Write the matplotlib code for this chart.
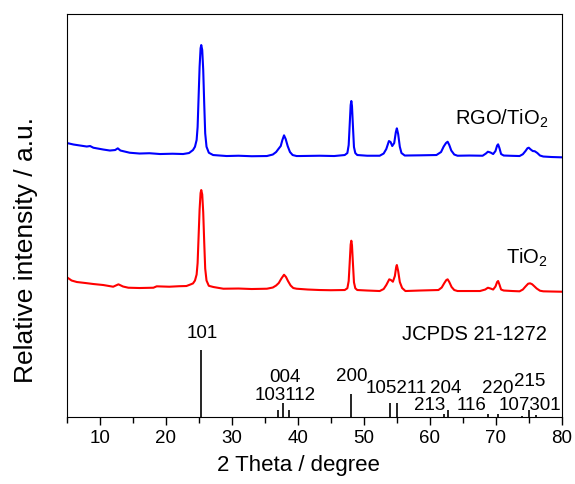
import numpy as np
import matplotlib as mpl
mpl.use('agg')
from matplotlib import pyplot as plt

plt.rcParams['font.family'] = ['Liberation Sans', 'DejaVu Sans']
plt.rcParams['mathtext.fontset'] = 'custom'
plt.rcParams['mathtext.rm'] = 'Liberation Sans'

# RGO/TiO2 pattern (2theta, intensity a.u.)
rgo_2theta = [5.0, 6.0, 7.0, 8.0, 8.5, 9.0, 10.5, 11.5, 12.3, 12.7, 13.1, 14.5, 16.0,
              17.5, 19.1, 21.0, 22.6, 23.5, 24.1, 24.4, 24.65, 24.8, 24.95, 25.1,
              25.25, 25.35, 25.5, 25.65, 25.8, 25.95, 26.15, 26.5, 27.15, 29.2, 31.0,
              33.0, 35.3, 36.2, 36.7, 37.1, 37.4, 37.65, 37.9, 38.15, 38.45, 38.8,
              39.2, 39.8, 40.3, 43.3, 45.5, 47.1, 47.5, 47.7, 47.85, 48.0, 48.1,
              48.2, 48.35, 48.5, 48.7, 49.0, 50.5, 52.4, 53.0, 53.4, 53.8, 54.05,
              54.3, 54.6, 54.85, 55.0, 55.2, 55.45, 55.7, 56.2, 58.5, 61.0, 61.7,
              62.1, 62.45, 62.7, 62.95, 63.25, 63.7, 64.2, 66.0, 68.0, 68.5, 68.8,
              69.2, 69.6, 69.95, 70.2, 70.35, 70.55, 70.8, 71.2, 72.5, 73.6, 74.1,
              74.5, 74.8, 75.0, 75.3, 75.6, 75.9, 76.3, 76.7, 77.2, 78.5, 80.0]
rgo_int = [274, 272.5, 271.5, 270.5, 271, 269.3, 267.5, 266.5, 267, 268.7, 266.5, 264.3, 263.5,
           263.8, 263, 263.3, 263, 264, 267, 270.3, 277, 290, 320, 350,
           368.7, 372, 367, 347, 313.7, 283.7, 270.3, 264.3, 262, 261, 261.3,
           260.8, 261, 262.5, 265, 268.5, 271, 277, 281.7, 278, 271, 265,
           262, 261, 261, 261.3, 261, 262, 264, 272, 292, 312, 316,
           311, 290, 270, 264, 262, 261.3, 261.3, 263.5, 268, 276, 275,
           271, 274, 285, 288.7, 283, 270.3, 264, 261.5, 261.7, 262, 265,
           270.5, 274, 275.3, 272, 266.5, 262.5, 261.3, 261.5, 261.3, 263.5, 265.3,
           264.5, 263, 266, 271.5, 272.7, 269, 263, 261.5, 261.2, 261, 262.8,
           266, 268.8, 269.3, 267.5, 266, 265.8, 264, 261.5, 260.5, 260, 259.7]

# bare TiO2 pattern
tio2_2theta = [5.0, 5.7, 6.5, 7.8, 9.0, 10.5, 12.0, 12.8, 13.5, 14.3, 16.0, 18.1, 18.6,
               20.5, 22.0, 23.1, 23.7, 24.1, 24.4, 24.65, 24.8, 24.95, 25.1, 25.25,
               25.35, 25.5, 25.65, 25.8, 25.95, 26.15, 26.5, 27.2, 28.7, 31.0, 33.0,
               35.3, 36.2, 36.7, 37.1, 37.5, 37.9, 38.2, 38.5, 38.9, 39.3, 39.8,
               41.5, 43.3, 45.0, 47.1, 47.5, 47.7, 47.85, 48.0, 48.1, 48.2, 48.35,
               48.5, 48.7, 49.0, 50.5, 52.4, 53.0, 53.4, 53.85, 54.1, 54.4, 54.7,
               54.9, 55.0, 55.2, 55.45, 55.8, 56.3, 58.5, 61.3, 61.8, 62.2, 62.5,
               62.7, 62.95, 63.3, 63.7, 64.2, 66.0, 67.6, 68.4, 68.8, 69.2, 69.6,
               69.95, 70.2, 70.35, 70.55, 70.8, 71.2, 72.5, 73.6, 74.1, 74.5, 74.9,
               75.2, 75.5, 75.8, 76.2, 76.7, 77.2, 78.5, 80.0]
tio2_int = [139.7, 136.5, 135, 134, 133, 132, 130.3, 132.7, 130.5, 129.3, 129, 129.3, 130.7,
            130.3, 130.8, 131, 132.5, 133.6, 136.5, 142.5, 154, 180.7, 207.4, 224,
            227, 222.6, 204.8, 175, 148.4, 136.5, 131.2, 130, 128.3, 128.5, 128,
            128.3, 129.5, 131.5, 134, 138.5, 142.3, 140, 136, 131.5, 129, 128.3,
            127.5, 127, 126.8, 127, 128.8, 136, 154, 172.5, 176.3, 171.8, 152.8,
            134.7, 128.8, 127, 126.5, 126, 128, 132, 137.7, 137, 135.3, 141,
            150, 152, 146, 135, 129, 126, 126.5, 127, 129.5, 134, 137,
            137.7, 135, 130, 127, 126, 126, 126, 127.5, 129.3, 128.5, 127.5,
            130.5, 135, 136, 132.5, 127.5, 126.5, 126, 125.7, 127.5, 130.5, 133.3,
            133.7, 132.8, 131, 128.5, 126.3, 125.7, 125.5, 125.3]

# anatase reference lines, JCPDS 21-1272
hkl = ['101', '103', '004', '112', '200', '105', '211', '213', '204',
       '116', '220', '107', '215', '301']
ref_2theta = [25.28, 36.95, 37.80, 38.58, 48.05, 53.89, 55.06, 62.12, 62.69,
              68.76, 70.31, 74.03, 75.03, 76.02]
ref_int = [100, 11, 21, 10, 35, 21, 21, 5, 10, 5, 5, 2, 10, 3]

stick_scale = 0.67

fig = plt.figure(figsize=(5.75, 4.84), dpi=100)
ax = fig.add_axes([0.1165, 0.1384, 0.8605, 0.8326])

ax.plot(rgo_2theta, rgo_int, color='#0000ff', lw=1.5)
ax.plot(tio2_2theta, tio2_int, color='#ff0000', lw=1.5)
ax.vlines(ref_2theta, 0, np.array(ref_int) * stick_scale, color='black', lw=1.2)

# hkl labels, some pairs share one text
fs = 13.5
ax.text(25.5, 84, '101', ha='center', va='center', fontsize=fs)
ax.text(38.0, 39.7, '004', ha='center', va='center', fontsize=fs)
ax.text(38.0, 22, '103112', ha='center', va='center', fontsize=fs)
ax.text(48.1, 41, '200', ha='center', va='center', fontsize=fs)
ax.text(54.9, 28.7, '105211', ha='center', va='center', fontsize=fs)
ax.text(62.4, 28.7, '204', ha='center', va='center', fontsize=fs)
ax.text(60.0, 12, '213', ha='center', va='center', fontsize=fs)
ax.text(66.4, 12, '116', ha='center', va='center', fontsize=fs)
ax.text(70.35, 28.7, '220', ha='center', va='center', fontsize=fs)
ax.text(75.15, 35.3, '215', ha='center', va='center', fontsize=fs)
ax.text(75.15, 12, '107301', ha='center', va='center', fontsize=fs)
ax.text(77.8, 82.7, 'JCPDS 21-1272', ha='right', va='center', fontsize=14.5)
ax.text(77.9, 298, r'RGO/TiO$_2$', ha='right', va='center', fontsize=14.5)
ax.text(77.9, 159, r'TiO$_2$', ha='right', va='center', fontsize=14.5)

ax.set_xlim(5, 80)
ax.set_ylim(0, 403)
ax.set_xticks(np.arange(10, 81, 10))
ax.set_xticks(np.arange(5, 81, 5), minor=True)
ax.set_yticks([])
ax.tick_params(axis='x', which='major', direction='out', length=6, width=1, labelsize=13.5)
ax.tick_params(axis='x', which='minor', direction='out', length=4, width=1)
ax.set_xlabel('2 Theta / degree', fontsize=16)
ax.set_ylabel('Relative intensity / a.u.', fontsize=19)
ax.xaxis.set_label_coords(0.467, -0.095)
ax.yaxis.set_label_coords(-0.058, 0.414)

plt.savefig('out.png', dpi=100)
